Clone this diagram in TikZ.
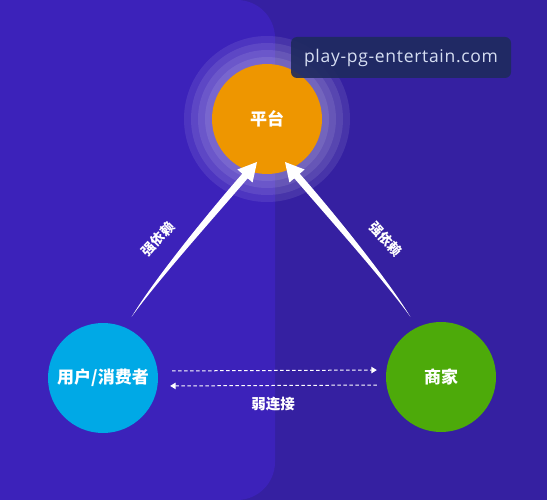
\documentclass[tikz,border=0pt]{standalone}
\usepackage{fontspec}
\setmainfont{Open Sans}
\newfontfamily\cjk{Noto Sans CJK SC}
\usetikzlibrary{arrows.meta}

\definecolor{panelleft}{HTML}{3C22BA}
\definecolor{panelright}{HTML}{3520A1}
\definecolor{platformorange}{HTML}{EE9600}
\definecolor{userblue}{HTML}{00A9E6}
\definecolor{merchantgreen}{HTML}{4DAA0A}
\definecolor{markbox}{HTML}{1E2A5E}
\definecolor{marktext}{HTML}{D6DEF2}

\begin{document}
\begin{tikzpicture}[x=1pt,y=-1pt,
    ball/.style={circle, minimum size=110pt, inner sep=0pt, text=white,
        font=\cjk\bfseries\fontsize{17}{17}\selectfont},
    tag/.style={text=white, inner sep=1pt,
        font=\cjk\bfseries\fontsize{13.5}{13.5}\selectfont},
    weak/.style={white, dash pattern=on 3.5pt off 2.5pt, line width=1pt,
        -{Triangle[width=6.5pt,length=5.5pt]}}]

    \def\panelx{275}   % right edge of left panel
    \def\rad{38}       % its corner radius

    % background
    \useasboundingbox (0,0) rectangle (547,500);
    \fill[panelright] (0,0) rectangle (547,500);
    \begin{scope}
        \clip (0,0) rectangle (547,500);
        \fill[panelleft, rounded corners=\rad pt]
            (-60,0) -- (\panelx,0) -- (\panelx,500) -- (-60,500) -- cycle;
    \end{scope}

    % glow round the platform
    \foreach \r in {83,76,69,62}
        \fill[white, opacity=0.09] (267,119) circle[radius=\r];

    % the three parties
    \node[ball, fill=platformorange] (platform) at (267,119) {平台};
    \node[ball, fill=userblue] (user) at (103,378) {用户/消费者};
    \node[ball, fill=merchantgreen] (merchant) at (441,377) {商家};

    % strong dependence, left
    \fill[white] (131.7,316.7) .. controls (155,278) and (213,207) .. (242.3,173.7)
        -- (237.4,169.5) -- (257,162) -- (252.6,182.5) -- (247.7,178.3)
        .. controls (218,213) and (158,280) .. (131.7,316.7) -- cycle;
    \node[tag, rotate=46] (leftlabel) at (158,239) {强依赖};

    % strong dependence, right
    \fill[white] (410.3,316.7) .. controls (387,278) and (329,207) .. (299.7,173.7)
        -- (304.6,169.5) -- (285,162) -- (289.4,182.5) -- (294.3,178.3)
        .. controls (324,213) and (384,280) .. (410.3,316.7) -- cycle;
    \node[tag, rotate=-48] (rightlabel) at (386,239) {强依赖};

    % weak connection
    \draw[weak, shorten <=14pt, shorten >=9pt]
        ([yshift=7pt]user.east) -- ([yshift=7pt]merchant.west);
    \draw[weak, shorten <=9pt, shorten >=12pt]
        ([yshift=-8pt]merchant.west) -- ([yshift=-8pt]user.east);
    \node[tag, font=\cjk\bfseries\fontsize{14.5}{14.5}\selectfont] (weaklabel)
        at (273,404) {弱连接};

    % watermark
    \fill[markbox, opacity=0.9, rounded corners=6pt] (291,37) rectangle (511,78);
    \node[text=marktext, font=\fontsize{17.5}{17.5}\selectfont\addfontfeature{LetterSpace=4}]
        (mark) at (401,58) {play-pg-entertain.com};
\end{tikzpicture}
\end{document}
